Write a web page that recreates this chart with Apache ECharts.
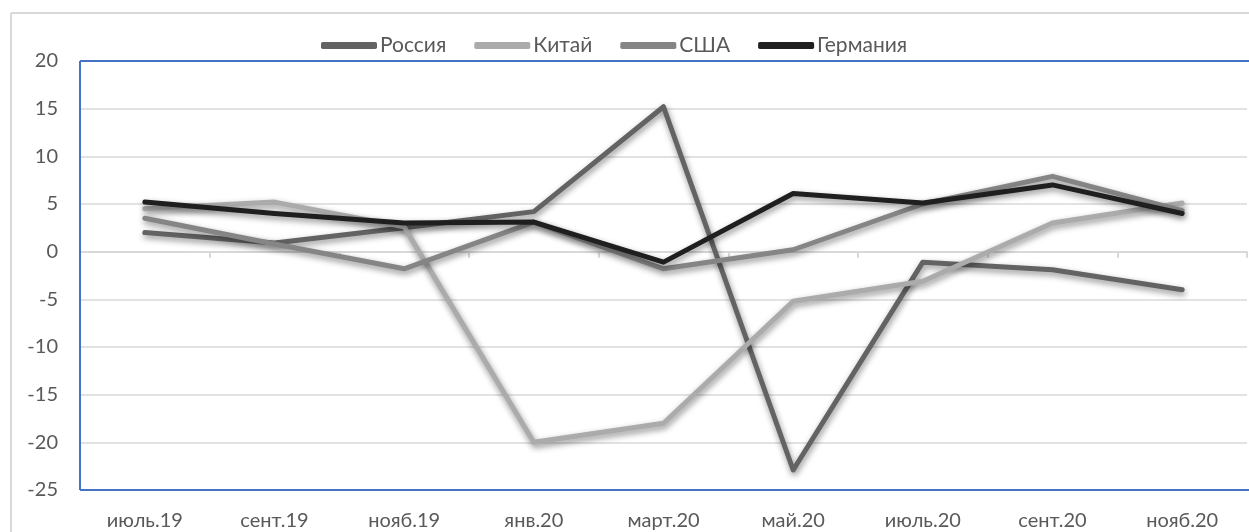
<!DOCTYPE html>
<html>
<head>
<meta charset="utf-8">
<script src="https://cdn.jsdelivr.net/npm/echarts@6/dist/echarts.min.js"></script>
<style>
html,body{margin:0;padding:0;background:#fff;overflow:hidden;}
#c{width:1249px;height:532px;}
</style>
</head>
<body>
<div id="c"></div>
<script>
const categories = ['июль.19','сент.19','нояб.19','янв.20','март.20','май.20','июль.20','сент.20','нояб.20'];
const russia  = [2, 0.9, 2.5, 4.2, 15.2, -22.9, -1.1, -1.9, -4.0];
const china   = [4.5, 5.2, 2.6, -20, -18, -5.2, -3.1, 3.0, 5.1];
const usa     = [3.5, 0.8, -1.8, 3.1, -1.8, 0.2, 5.0, 7.9, 4.3];
const germany = [5.2, 4.0, 3.0, 3.1, -1.1, 6.1, 5.1, 7.0, 4.0];
const yTicks = {min: -25, max: 20, interval: 5};

const FONT = 'Lato';
const FS = 20;
const W = 1249, H = 532;
const G = {left:80, top:61, right:2, bottom:42};
const shadow = {shadowColor:'rgba(0,0,0,0.45)', shadowBlur:6, shadowOffsetX:1, shadowOffsetY:3};
function mk(name, data, color){
  return {name, type:'line', data, xAxisIndex:0, symbol:'none', smooth:false,
    lineStyle:Object.assign({color, width:5, cap:'round', join:'round'}, shadow),
    itemStyle:{color}};
}
const frame = {stroke:'#4472C4', lineWidth:2};
const chart = echarts.init(document.getElementById('c'), null, {renderer:'canvas'});
chart.setOption({
  animation:false,
  textStyle:{fontFamily:FONT},
  graphic:[
    {type:'line', shape:{x1:11,y1:13,x2:W,y2:13}, style:{stroke:'#d9d9d9', lineWidth:2}, silent:true, z:-1},
    {type:'line', shape:{x1:11,y1:13,x2:11,y2:H}, style:{stroke:'#d9d9d9', lineWidth:2}, silent:true, z:-1},
    {type:'line', shape:{x1:G.left,y1:G.top,x2:W,y2:G.top}, style:frame, silent:true, z:1},
    {type:'line', shape:{x1:G.left,y1:H-G.bottom,x2:W,y2:H-G.bottom}, style:frame, silent:true, z:1},
    {type:'line', shape:{x1:G.left,y1:G.top,x2:G.left,y2:H-G.bottom}, style:frame, silent:true, z:1}
  ],
  legend:{
    left:316, top:30, itemWidth:56, itemHeight:7, itemGap:28, icon:'roundRect',
    textStyle:{color:'#595959', fontSize:21, fontFamily:FONT, padding:[0,0,0,-2]},
    data:['Россия','Китай','США','Германия']
  },
  grid:Object.assign({show:false}, G),
  xAxis:[{
    type:'category', data:categories, position:'bottom', boundaryGap:true,
    axisLine:{show:true, onZero:true, lineStyle:{color:'#d9d9d9', width:2}},
    axisTick:{show:true, alignWithLabel:false, length:6, lineStyle:{color:'#d9d9d9', width:2}},
    axisLabel:{show:false}, splitLine:{show:false}
  },{
    type:'category', data:categories, position:'bottom', boundaryGap:true,
    axisLine:{show:false, onZero:false}, axisTick:{show:false},
    axisLabel:{show:true, color:'#595959', fontSize:FS, fontFamily:FONT, margin:21}, splitLine:{show:false}
  }],
  yAxis:{
    type:'value', min:yTicks.min, max:yTicks.max, interval:yTicks.interval,
    axisLine:{show:false}, axisTick:{show:false},
    axisLabel:{color:'#595959', fontSize:FS, fontFamily:FONT, margin:22},
    splitLine:{show:true, lineStyle:{color:'#d9d9d9', width:1.5}}
  },
  series:[
    mk('Россия', russia, '#636363'),
    mk('Китай', china, '#ababab'),
    mk('США', usa, '#858585'),
    mk('Германия', germany, '#1f1f1f')
  ]
});
</script>
</body>
</html>
